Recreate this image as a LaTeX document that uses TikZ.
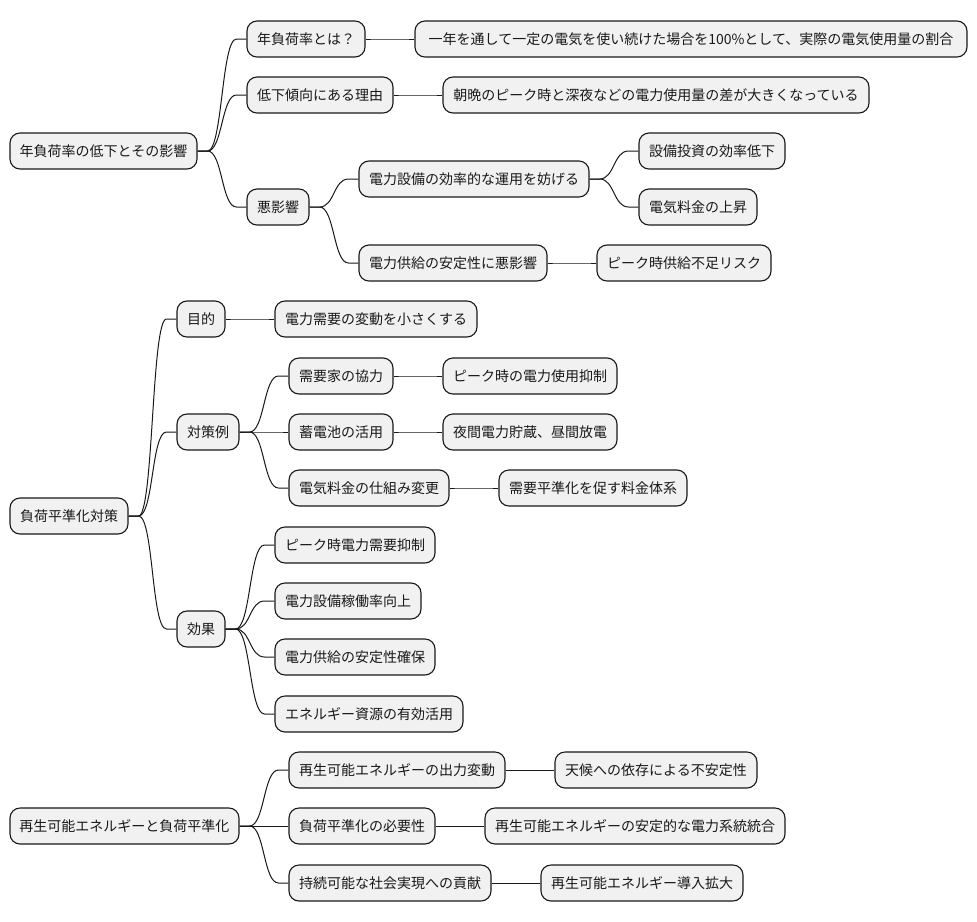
\documentclass[tikz,border=0pt]{standalone}
\usepackage{fontspec}
\setmainfont{Noto Sans CJK JP}
\usetikzlibrary{calc}
\tikzset{
  box/.style={draw=black!90, fill=black!5.5, line width=1.1pt, rounded corners=10pt,
    minimum height=36pt, inner sep=0pt, font=\fontsize{14pt}{16pt}\selectfont, text=black!90},
  conn/.style={draw=black!90, line width=1pt}
}
\newcommand{\mmbox}[5]{\node[box, minimum width={#3-#2}] (#1) at ({(#2+#3)/2},#4) {#5};}
\newcommand{\mconn}[2]{\draw[conn] (#1.east) -- ++(10,0) .. controls +(15,0) and +(-15,0) .. ($(#2.west)+(-10,0)$) -- (#2.west);}
\begin{document}
\begin{tikzpicture}[x=1pt,y=-1pt]
\useasboundingbox (0,0) rectangle (977,921);
% group 1
\mmbox{r1}{10}{197}{151}{年負荷率の低下とその影響}
\mmbox{a1}{247}{365}{39}{年負荷率とは？}
\mmbox{a1x}{415}{967}{39}{一年を通して一定の電気を使い続けた場合を100\%として、実際の電気使用量の割合}
\mmbox{a2}{247}{393}{95}{低下傾向にある理由}
\mmbox{a2x}{443}{869}{95}{朝晩のピーク時と深夜などの電力使用量の差が大きくなっている}
\mmbox{a3}{247}{309}{207}{悪影響}
\mmbox{a31}{359}{589}{179}{電力設備の効率的な運用を妨げる}
\mmbox{a311}{639}{785}{151}{設備投資の効率低下}
\mmbox{a312}{639}{757}{207}{電気料金の上昇}
\mmbox{a32}{359}{547}{263}{電力供給の安定性に悪影響}
\mmbox{a321}{597}{771}{263}{ピーク時供給不足リスク}
% group 2
\mmbox{r2}{10}{128}{516}{負荷平準化対策}
\mmbox{b1}{177}{225}{319}{目的}
\mmbox{b1x}{275}{477}{319}{電力需要の変動を小さくする}
\mmbox{b2}{177}{239}{432}{対策例}
\mmbox{b21}{289}{393}{376}{需要家の協力}
\mmbox{b21x}{443}{617}{376}{ピーク時の電力使用抑制}
\mmbox{b22}{289}{393}{432}{蓄電池の活用}
\mmbox{b22x}{443}{617}{432}{夜間電力貯蔵、昼間放電}
\mmbox{b23}{289}{449}{488}{電気料金の仕組み変更}
\mmbox{b23x}{499}{687}{488}{需要平準化を促す料金体系}
\mmbox{b3}{177}{225}{629}{効果}
\mmbox{b31}{275}{435}{545}{ピーク時電力需要抑制}
\mmbox{b32}{275}{421}{601}{電力設備稼働率向上}
\mmbox{b33}{275}{435}{657}{電力供給の安定性確保}
\mmbox{b34}{275}{463}{714}{エネルギー資源の有効活用}
% group 3
\mmbox{r3}{10}{239}{826}{再生可能エネルギーと負荷平準化}
\mmbox{c1}{289}{505}{770}{再生可能エネルギーの出力変動}
\mmbox{c1x}{555}{757}{770}{天候への依存による不安定性}
\mmbox{c2}{289}{435}{826}{負荷平準化の必要性}
\mmbox{c2x}{485}{785}{826}{再生可能エネルギーの安定的な電力系統統合}
\mmbox{c3}{289}{491}{883}{持続可能な社会実現への貢献}
\mmbox{c3x}{541}{743}{883}{再生可能エネルギー導入拡大}
% connectors
\mconn{r1}{a1}\mconn{a1}{a1x}
\mconn{r1}{a2}\mconn{a2}{a2x}
\mconn{r1}{a3}\mconn{a3}{a31}\mconn{a3}{a32}
\mconn{a31}{a311}\mconn{a31}{a312}\mconn{a32}{a321}
\mconn{r2}{b1}\mconn{b1}{b1x}
\mconn{r2}{b2}\mconn{b2}{b21}\mconn{b2}{b22}\mconn{b2}{b23}
\mconn{b21}{b21x}\mconn{b22}{b22x}\mconn{b23}{b23x}
\mconn{r2}{b3}\mconn{b3}{b31}\mconn{b3}{b32}\mconn{b3}{b33}\mconn{b3}{b34}
\mconn{r3}{c1}\mconn{c1}{c1x}
\mconn{r3}{c2}\mconn{c2}{c2x}
\mconn{r3}{c3}\mconn{c3}{c3x}
\end{tikzpicture}
\end{document}
